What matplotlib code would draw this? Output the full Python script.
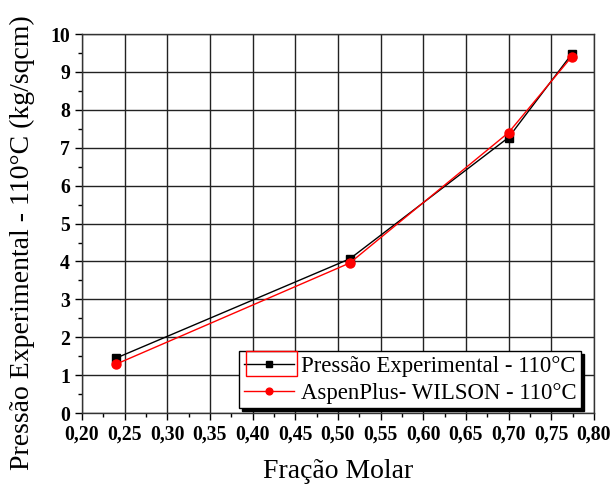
import numpy as np
import matplotlib
matplotlib.use("Agg")
import matplotlib.pyplot as plt
from matplotlib.ticker import MultipleLocator, FuncFormatter
from matplotlib.patches import Rectangle

# Molar fraction and vapour pressure at 110 °C
frac = [0.24, 0.514, 0.700, 0.774]
p_exp = [1.45, 4.07, 7.27, 9.47]
p_wilson = [1.29, 3.96, 7.40, 9.40]

plt.rcParams['font.family'] = ['Liberation Serif', 'DejaVu Serif']

fig = plt.figure(figsize=(6.11, 4.86), dpi=100)
ax = fig.add_axes([0.134, 0.150, 0.838, 0.780])

ax.plot(frac, p_exp, color='black', lw=1.0, marker='s', ms=6,
        label='Pressão Experimental - 110°C', zorder=3)
ax.plot(frac, p_wilson, color='red', lw=1.0, marker='o', ms=6.5,
        label='AspenPlus- WILSON - 110°C', zorder=4)

ax.set_xlim(0.20, 0.80)
ax.set_ylim(0, 10)
ax.xaxis.set_major_locator(MultipleLocator(0.05))
ax.xaxis.set_minor_locator(MultipleLocator(0.025))
ax.yaxis.set_major_locator(MultipleLocator(1))
ax.yaxis.set_minor_locator(MultipleLocator(0.5))
ax.xaxis.set_major_formatter(FuncFormatter(lambda v, p: f"{v:.2f}".replace('.', ',')))
ax.yaxis.set_major_formatter(FuncFormatter(lambda v, p: f"{v:.0f}"))

ax.grid(True, which='major', color='#222222', lw=1.0)
ax.tick_params(which='major', direction='out', length=5, width=1, labelsize=14.2)
ax.tick_params(which='minor', direction='out', length=3, width=1)
for lab in ax.get_xticklabels() + ax.get_yticklabels():
    lab.set_fontweight('bold')
for s in ax.spines.values():
    s.set_color('#333333')
    s.set_linewidth(1.0)

ax.set_xlabel('Fração Molar', fontsize=20, labelpad=10)
ax.set_ylabel('Pressão Experimental - 110°C (kg/sqcm)', fontsize=20)
ax.yaxis.set_label_coords(-0.092, 0.451)

leg = ax.legend(loc='lower right', bbox_to_anchor=(0.975, 0.013), fontsize=16.4,
                frameon=True, fancybox=False, edgecolor='black', framealpha=1,
                shadow={'color': 'black', 'alpha': 1}, handlelength=2.2,
                handletextpad=0.3, borderpad=0.2, labelspacing=0.25,
                borderaxespad=0, markerscale=0.75)
leg.get_frame().set_linewidth(1.0)

# selection box around the first legend handle
fig.patches.append(Rectangle((246 / 611, 1 - 376 / 486), 51 / 611, 25 / 486,
                             transform=fig.transFigure, fill=False,
                             edgecolor='red', lw=1.0, zorder=10))

fig.savefig('out.png', dpi=100)
